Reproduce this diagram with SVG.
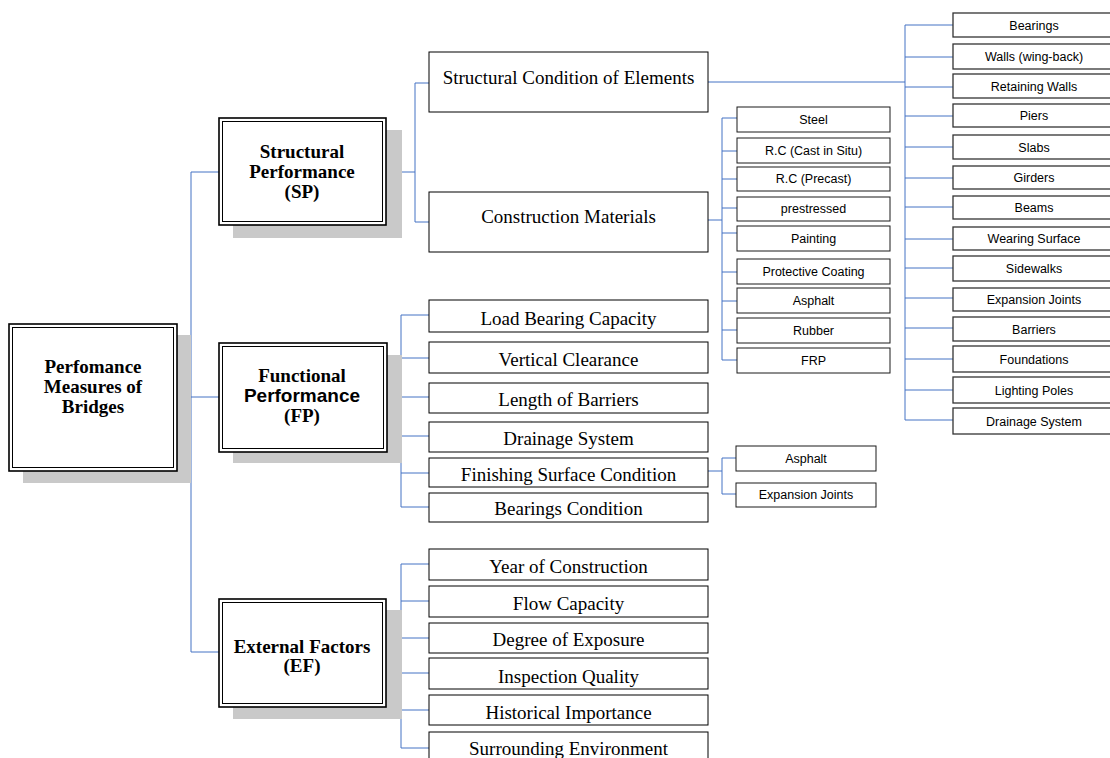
<svg xmlns="http://www.w3.org/2000/svg" width="1110" height="758" viewBox="0 0 1110 758">
<style>
.shadow{fill:#c9c9c9;stroke:none}
.outer{fill:#fff;stroke:#000;stroke-width:1.6}
.inner{fill:none;stroke:#000;stroke-width:1}
.mid{fill:#fff;stroke:#000;stroke-width:1}
.sm{fill:#fff;stroke:#1a1a1a;stroke-width:1}
.rt{fill:#fff;stroke:#333;stroke-width:1.3}
.hd{font-family:"Liberation Serif","Times New Roman",serif;font-weight:bold;font-size:19px;text-anchor:middle;fill:#000}
.hds{font-family:"Liberation Sans",Arial,sans-serif;font-weight:bold;font-size:19px;text-anchor:middle;fill:#000}
.mt{font-family:"Liberation Serif","Times New Roman",serif;font-size:19px;text-anchor:middle;fill:#000}
.st{font-family:"Liberation Sans",Arial,sans-serif;font-size:12.5px;text-anchor:middle;fill:#000}
.c{fill:none;stroke:#4472C4;stroke-width:1}
</style>
<g id="connectors">
<path class="c" d="M177 397H191M191 172V652M191 172H219M191 397H219M191 652H219"/>
<path class="c" d="M386 172H415M415 83V222M415 83H429M415 222H429"/>
<path class="c" d="M708 82H905M905 25V420M905 25H953M905 57H953M905 87H953M905 116H953M905 147H953M905 178H953M905 207H953M905 239H953M905 268H953M905 298H953M905 328H953M905 359H953M905 390H953M905 420H953"/>
<path class="c" d="M708 220H722M722 118V360M722 118H737M722 151H737M722 179H737M722 208H737M722 233H737M722 272H737M722 301H737M722 330H737M722 360H737"/>
<path class="c" d="M387 397H401M401 315V507M401 315H429M401 358H429M401 397H429M401 436H429M401 473H429M401 507H429"/>
<path class="c" d="M708 471H722M722 458V494M722 458H736M722 494H736"/>
<path class="c" d="M386 653H401M401 564V748M401 564H429M401 601H429M401 638H429M401 673H429M401 710H429M401 748H429"/>
</g>
<g id="root">
<rect class="shadow" x="23" y="335" width="168" height="148"/>
<rect class="outer" x="9" y="324" width="168" height="147"/>
<rect class="inner" x="12.5" y="327.5" width="161" height="140"/>
<text class="hd" x="93" y="373">Perfomance</text>
<text class="hd" x="93" y="393">Measures of</text>
<text class="hd" x="93" y="413">Bridges</text>
</g>
<g id="sp">
<rect class="shadow" x="233" y="130" width="169" height="108"/>
<rect class="outer" x="219" y="118" width="167" height="107"/>
<rect class="inner" x="222.5" y="121.5" width="160" height="100"/>
<text class="hd" x="302" y="158">Structural</text>
<text class="hd" x="302" y="178">Performance</text>
<text class="hd" x="302" y="198">(SP)</text>
</g>
<g id="fp">
<rect class="shadow" x="233" y="355" width="169" height="108"/>
<rect class="outer" x="219" y="343" width="168" height="109"/>
<rect class="inner" x="222.5" y="346.5" width="161" height="102"/>
<text class="hd" x="302" y="382">Functional</text>
<text class="hds" x="302" y="402">Performance</text>
<text class="hd" x="302" y="422">(FP)</text>
</g>
<g id="ef">
<rect class="shadow" x="233" y="610" width="169" height="109"/>
<rect class="outer" x="219" y="599" width="167" height="108"/>
<rect class="inner" x="222.5" y="602.5" width="160" height="101"/>
<text class="hd" x="302" y="653">External Factors</text>
<text class="hd" x="302" y="672">(EF)</text>
</g>
<g id="sce"><rect class="mid" x="429" y="52" width="279" height="60"/><text class="mt" x="568.5" y="84">Structural Condition of Elements</text></g>
<g id="cm"><rect class="mid" x="429" y="192" width="279" height="60"/><text class="mt" x="568.5" y="223">Construction Materials</text></g>
<g id="lbc"><rect class="mid" x="429" y="300" width="279" height="32"/><text class="mt" x="568.5" y="325">Load Bearing Capacity</text></g>
<g id="vc"><rect class="mid" x="429" y="342" width="279" height="31"/><text class="mt" x="568.5" y="366">Vertical Clearance</text></g>
<g id="lob"><rect class="mid" x="429" y="383" width="279" height="30"/><text class="mt" x="568.5" y="406">Length of Barriers</text></g>
<g id="ds"><rect class="mid" x="429" y="422" width="279" height="30"/><text class="mt" x="568.5" y="445">Drainage System</text></g>
<g id="fsc"><rect class="mid" x="429" y="458" width="279" height="29"/><text class="mt" x="568.5" y="481">Finishing Surface Condition</text></g>
<g id="bc"><rect class="mid" x="429" y="493" width="279" height="29"/><text class="mt" x="568.5" y="515">Bearings Condition</text></g>
<g id="yoc"><rect class="mid" x="429" y="549" width="279" height="31"/><text class="mt" x="568.5" y="573">Year of Construction</text></g>
<g id="fc"><rect class="mid" x="429" y="586" width="279" height="31"/><text class="mt" x="568.5" y="610">Flow Capacity</text></g>
<g id="doe"><rect class="mid" x="429" y="623" width="279" height="30"/><text class="mt" x="568.5" y="646">Degree of Exposure</text></g>
<g id="iq"><rect class="mid" x="429" y="658" width="279" height="31"/><text class="mt" x="568.5" y="683">Inspection Quality</text></g>
<g id="hi"><rect class="mid" x="429" y="695" width="279" height="30"/><text class="mt" x="568.5" y="719">Historical Importance</text></g>
<g id="se"><rect class="mid" x="429" y="732" width="279" height="32"/><text class="mt" x="568.5" y="755">Surrounding Environment</text></g>
<g id="m-steel"><rect class="sm" x="737" y="107" width="153" height="25"/><text class="st" x="813.5" y="123.5">Steel</text></g>
<g id="m-rccis"><rect class="sm" x="737" y="138" width="153" height="25"/><text class="st" x="813.5" y="154.5">R.C (Cast in Situ)</text></g>
<g id="m-rcp"><rect class="sm" x="737" y="167" width="153" height="24"/><text class="st" x="813.5" y="183">R.C (Precast)</text></g>
<g id="m-pre"><rect class="sm" x="737" y="197" width="153" height="24"/><text class="st" x="813.5" y="213">prestressed</text></g>
<g id="m-paint"><rect class="sm" x="737" y="226" width="153" height="25"/><text class="st" x="813.5" y="242.5">Painting</text></g>
<g id="m-pc"><rect class="sm" x="737" y="259" width="153" height="25"/><text class="st" x="813.5" y="275.5">Protective Coating</text></g>
<g id="m-asph"><rect class="sm" x="737" y="288" width="153" height="25"/><text class="st" x="813.5" y="304.5">Asphalt</text></g>
<g id="m-rub"><rect class="sm" x="737" y="318" width="153" height="25"/><text class="st" x="813.5" y="334.5">Rubber</text></g>
<g id="m-frp"><rect class="sm" x="737" y="348" width="153" height="25"/><text class="st" x="813.5" y="364.5">FRP</text></g>
<g id="f-asph"><rect class="sm" x="736" y="446" width="140" height="25"/><text class="st" x="806" y="462.5">Asphalt</text></g>
<g id="f-ej"><rect class="sm" x="736" y="483" width="140" height="24"/><text class="st" x="806" y="499">Expansion Joints</text></g>
<g id="r-bear"><rect class="rt" x="953" y="13" width="163" height="24"/><text class="st" x="1034" y="29.5">Bearings</text></g>
<g id="r-walls"><rect class="rt" x="953" y="44" width="163" height="25"/><text class="st" x="1034" y="61">Walls (wing-back)</text></g>
<g id="r-ret"><rect class="rt" x="953" y="74" width="163" height="24"/><text class="st" x="1034" y="90.5">Retaining Walls</text></g>
<g id="r-piers"><rect class="rt" x="953" y="104" width="163" height="23"/><text class="st" x="1034" y="120">Piers</text></g>
<g id="r-slabs"><rect class="rt" x="953" y="135" width="163" height="24"/><text class="st" x="1034" y="151.5">Slabs</text></g>
<g id="r-gird"><rect class="rt" x="953" y="166" width="163" height="23"/><text class="st" x="1034" y="182">Girders</text></g>
<g id="r-beams"><rect class="rt" x="953" y="196" width="163" height="23"/><text class="st" x="1034" y="212">Beams</text></g>
<g id="r-ws"><rect class="rt" x="953" y="227" width="163" height="23"/><text class="st" x="1034" y="243">Wearing Surface</text></g>
<g id="r-side"><rect class="rt" x="953" y="256" width="163" height="25"/><text class="st" x="1034" y="273">Sidewalks</text></g>
<g id="r-ej"><rect class="rt" x="953" y="288" width="163" height="23"/><text class="st" x="1034" y="304">Expansion Joints</text></g>
<g id="r-barr"><rect class="rt" x="953" y="317" width="163" height="24"/><text class="st" x="1034" y="333.5">Barriers</text></g>
<g id="r-found"><rect class="rt" x="953" y="346" width="163" height="26"/><text class="st" x="1034" y="363.5">Foundations</text></g>
<g id="r-light"><rect class="rt" x="953" y="377" width="163" height="26"/><text class="st" x="1034" y="394.5">Lighting Poles</text></g>
<g id="r-drain"><rect class="rt" x="953" y="408" width="163" height="26"/><text class="st" x="1034" y="425.5">Drainage System</text></g>
</svg>
